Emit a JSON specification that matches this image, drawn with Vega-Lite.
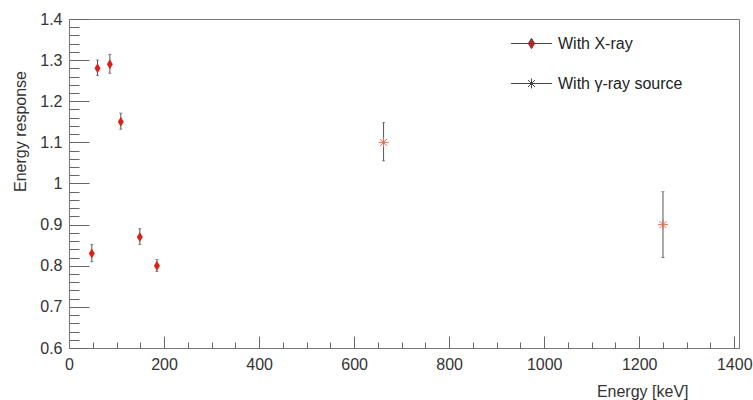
{
  "$schema": "https://vega.github.io/schema/vega-lite/v6.json",
  "width": 670,
  "height": 329,
  "autosize": "none",
  "padding": {"left": 69, "top": 19, "right": 14, "bottom": 52},
  "background": "white",
  "data": {
    "values": [
      {"series": "With X-ray", "E": 48, "r": 0.83, "lo": 0.81, "hi": 0.852},
      {"series": "With X-ray", "E": 60, "r": 1.28, "lo": 1.263, "hi": 1.3},
      {"series": "With X-ray", "E": 86, "r": 1.29, "lo": 1.268, "hi": 1.314},
      {"series": "With X-ray", "E": 109, "r": 1.15, "lo": 1.132, "hi": 1.171},
      {"series": "With X-ray", "E": 149, "r": 0.87, "lo": 0.852, "hi": 0.89},
      {"series": "With X-ray", "E": 185, "r": 0.8, "lo": 0.786, "hi": 0.815},
      {"series": "With γ-ray source", "E": 662, "r": 1.1, "lo": 1.055, "hi": 1.148},
      {"series": "With γ-ray source", "E": 1250, "r": 0.9, "lo": 0.82, "hi": 0.98}
    ]
  },
  "resolve": {"axis": {"x": "independent", "y": "independent"}},
  "layer": [
    {
      "mark": {"type": "rule", "color": "#555", "strokeWidth": 1},
      "encoding": {
        "x": {"field": "E", "type": "quantitative", "title": "Energy [keV]",
          "scale": {"domain": [0, 1410], "nice": false, "zero": false},
          "axis": {"orient": "bottom", "values": [0, 200, 400, 600, 800, 1000, 1200, 1400], "format": "d", "ticks": true, "tickSize": -12, "tickColor": "#666", "tickWidth": 1, "labelPadding": 20, "grid": false, "zindex": 2,
            "titleAlign": "right", "titleX": 619, "titleY": 48, "titleBaseline": "alphabetic"}},
        "y": {"field": "lo", "type": "quantitative", "title": "Energy response",
          "scale": {"domain": [0.6, 1.4], "nice": false, "zero": false},
          "axis": {"orient": "left", "values": [0.6, 0.7, 0.8, 0.9, 1, 1.1, 1.2, 1.3, 1.4], "format": "~g", "ticks": true, "tickSize": -20, "tickColor": "#666", "tickWidth": 1, "labelPadding": 27, "gridOpacity": 0, "zindex": 2,
            "titleAngle": -90, "titleAlign": "center", "titleX": -44, "titleY": 112, "titleBaseline": "alphabetic"}},
        "y2": {"field": "hi"}
      }
    },
    {
      "mark": {"type": "tick", "orient": "horizontal", "color": "#555", "size": 3, "thickness": 1},
      "encoding": {
        "x": {"field": "E", "type": "quantitative",
          "axis": {"orient": "bottom", "values": [50, 100, 150, 250, 300, 350, 450, 500, 550, 650, 700, 750, 850, 900, 950, 1050, 1100, 1150, 1250, 1300, 1350], "ticks": true, "tickSize": -6, "tickColor": "#666", "tickWidth": 1, "labels": false, "domain": false, "grid": false, "zindex": 2, "title": null}},
        "y": {"field": "lo", "type": "quantitative",
          "axis": {"orient": "left", "values": [0.62, 0.64, 0.66, 0.68, 0.72, 0.74, 0.76, 0.78, 0.82, 0.84, 0.86, 0.88, 0.92, 0.94, 0.96, 0.98, 1.02, 1.04, 1.06, 1.08, 1.12, 1.14, 1.16, 1.18, 1.22, 1.24, 1.26, 1.28, 1.32, 1.34, 1.36, 1.38], "ticks": true, "tickSize": -10, "tickColor": "#666", "tickWidth": 1, "labels": false, "domain": false, "gridOpacity": 0, "zindex": 2, "title": null}}
      }
    },
    {
      "mark": {"type": "tick", "orient": "horizontal", "color": "#555", "size": 3, "thickness": 1},
      "encoding": {
        "x": {"field": "E", "type": "quantitative", "axis": null},
        "y": {"field": "hi", "type": "quantitative", "axis": null}
      }
    },
    {
      "transform": [{"filter": "datum.series === 'With X-ray'"}],
      "mark": {"type": "point", "filled": true, "opacity": 1, "size": 100, "color": "#dc2218", "shape": "M0,-1L0.6,0L0,1L-0.6,0Z"},
      "encoding": {
        "x": {"field": "E", "type": "quantitative", "axis": null},
        "y": {"field": "r", "type": "quantitative", "axis": null}
      }
    },
    {
      "transform": [{"filter": "datum.series !== 'With X-ray'"}],
      "mark": {"type": "point", "filled": false, "opacity": 1, "size": 100, "strokeWidth": 1, "color": "#e0705a",
        "shape": "M-1,0H1M0,-1V1M-0.7,-0.7L0.7,0.7M-0.7,0.7L0.7,-0.7"},
      "encoding": {
        "x": {"field": "E", "type": "quantitative", "axis": null},
        "y": {"field": "r", "type": "quantitative", "axis": null}
      }
    },
    {
      "mark": {"type": "point", "filled": true, "size": 1700, "opacity": 0, "stroke": "#444", "strokeWidth": 1},
      "encoding": {
        "x": {"field": "E", "type": "quantitative", "axis": null},
        "y": {"field": "r", "type": "quantitative", "axis": null},
        "color": {"field": "series", "type": "nominal", "title": null,
          "scale": {"domain": ["With X-ray", "With γ-ray source"], "range": ["#dc2218", "#e0705a"]},
          "legend": {"orient": "none", "legendX": 441, "legendY": 3, "symbolSize": 1700, "symbolOpacity": 1, "symbolStrokeWidth": 1,
            "rowPadding": 10, "labelOffset": 5, "labelFontSize": 16, "labelColor": "#222", "labelFont": "Liberation Sans"}},
        "shape": {"field": "series", "type": "nominal", "title": null,
          "scale": {"domain": ["With X-ray", "With γ-ray source"], "range": ["M-1,0H1M0,-0.25L0.15,0L0,0.25L-0.15,0Z", "M-1,0H1M0,-0.24V0.24M-0.17,-0.17L0.17,0.17M-0.17,0.17L0.17,-0.17"]},
          "legend": {"orient": "none", "legendX": 441, "legendY": 3, "symbolSize": 1700, "symbolOpacity": 1, "symbolStrokeWidth": 1,
            "rowPadding": 10, "labelOffset": 5, "labelFontSize": 16, "labelColor": "#222", "labelFont": "Liberation Sans"}}
      }
    }
  ],
  "config": {
    "view": {"stroke": "#777", "strokeWidth": 1},
    "font": "Liberation Sans",
    "axis": {"domainColor": "#777", "labelColor": "#333", "titleColor": "#333",
      "labelFont": "Liberation Sans", "titleFont": "Liberation Sans", "labelFontSize": 16, "titleFontSize": 16, "titleFontWeight": "normal", "labelFlush": false, "labelOverlap": false},
    "legend": {"padding": 0}
  }
}
